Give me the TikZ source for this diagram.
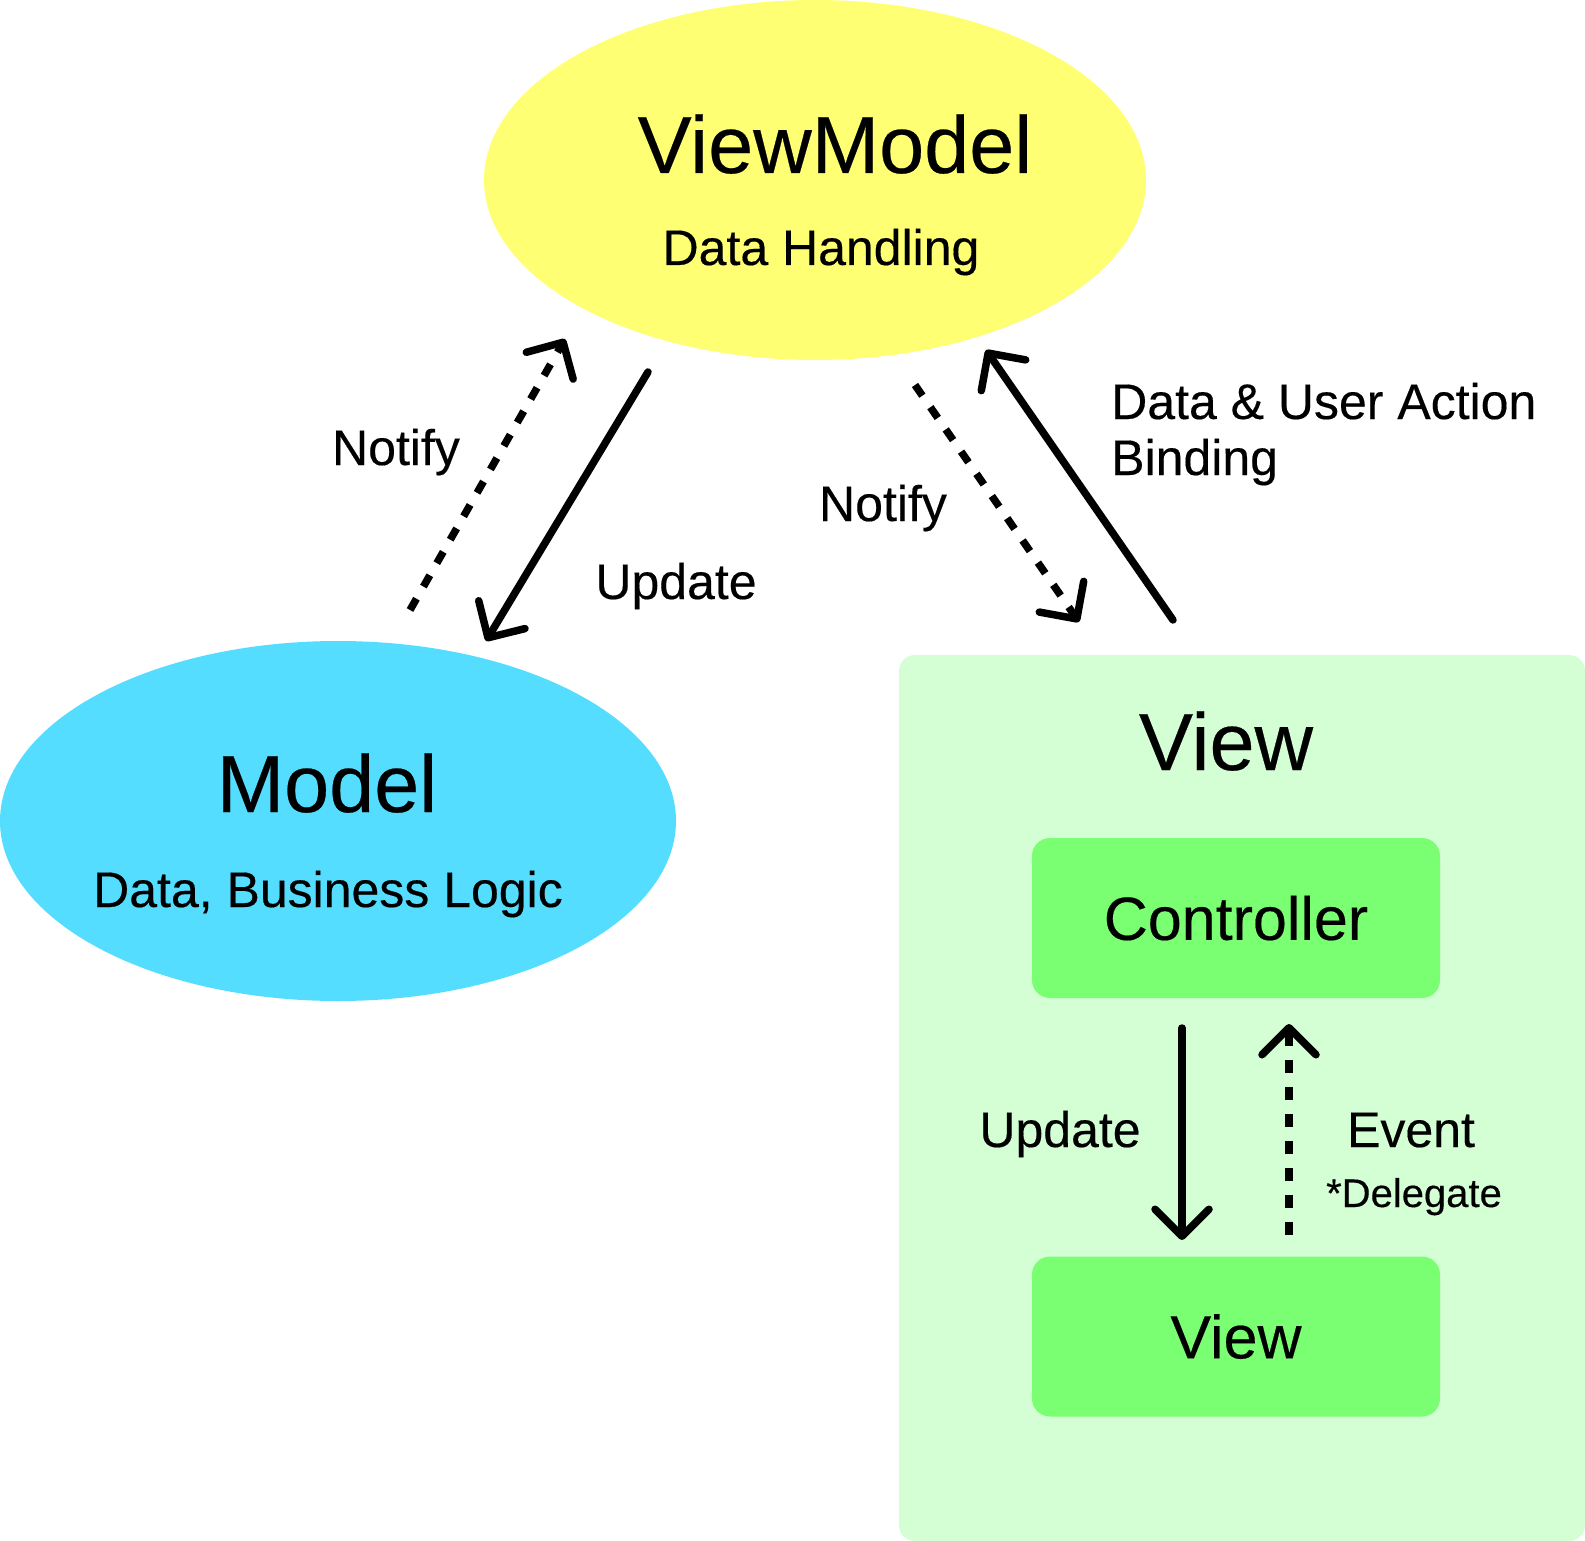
\documentclass[tikz,border=0pt]{standalone}
\usepackage{fontspec}
\setmainfont{Liberation Sans}[FakeBold=0.3]
\usetikzlibrary{arrows.meta,shapes.geometric}
\definecolor{vmyellow}{RGB}{255,255,115}
\definecolor{mcyan}{RGB}{85,221,255}
\definecolor{vpale}{RGB}{212,255,212}
\definecolor{vgreen}{RGB}{122,255,115}
\begin{document}
\begin{tikzpicture}[x=1pt,y=-1pt,
  blob/.style={ellipse,inner sep=0pt,outer sep=0pt,minimum width=662pt,minimum height=360pt},
  panel/.style={rounded corners=16pt,fill=vpale,inner sep=0pt,minimum width=686pt,minimum height=886pt},
  greenbox/.style={rounded corners=18pt,fill=vgreen,inner sep=0pt,minimum width=408pt,minimum height=160pt,
    font=\fontsize{61}{70}\selectfont,text height=43.7pt,text depth=0pt},
  bigtxt/.style={font=\fontsize{81}{90}\selectfont,inner sep=0pt,anchor=base},
  lbl/.style={font=\fontsize{50}{58}\selectfont,inner sep=0pt,anchor=base},
  smalllbl/.style={font=\fontsize{40}{48}\selectfont,inner sep=0pt,anchor=base},
  tipend/.style={-{Straight Barb[length=27pt,width=54pt,round]}},
  conn/.style={line width=7.5pt,line cap=round,tipend},
  dotconn/.style={line width=7.5pt,dash pattern=on 13pt off 14pt,tipend},
]
\useasboundingbox (0,0) rectangle (1585,1541);

% shapes
\node[blob,fill=vmyellow] (vm) at (815,180) {};
\node[blob,fill=mcyan,minimum width=676pt] (model) at (338,821) {};
\node[panel] (viewpanel) at (1242,1098) {};
\node[greenbox] (ctrl) at (1236,918) {Controller};
\node[greenbox] (view) at (1236,1336.5) {View};

% texts
\node[bigtxt] (vmtitle) at (835,173) {ViewModel};
\node[lbl] (vmsub) at (821,265) {Data Handling};
\node[bigtxt] (mtitle) at (327,812) {Model};
\node[lbl] (msub) at (328,907) {Data, Business Logic};
\node[bigtxt] (vtitle) at (1226,770) {View};

\node[lbl] (notifyl) at (396,465) {Notify};
\node[lbl] (updatel) at (676,599) {Update};
\node[lbl] (notifyr) at (883,521) {Notify};
\node[lbl,anchor=base west] (bind1) at (1111,419) {Data \& User Action};
\node[lbl,anchor=base west] (bind2) at (1111,475) {Binding};
\node[lbl] (updatei) at (1060,1147) {Update};
\node[lbl] (event) at (1411,1147) {Event};
\node[smalllbl] (deleg) at (1414,1207) {*Delegate};

% connector end points
\coordinate (n1s) at (410,610);
\coordinate (n1e) at (565,339);
\coordinate (u1s) at (648,372);
\coordinate (u1e) at (486,641);
\coordinate (n2s) at (915,385);
\coordinate (n2e) at (1079,622);
\coordinate (b1s) at (1173,620);
\coordinate (b1e) at (986,350);
\coordinate (u2s) at (1182,1028);
\coordinate (u2e) at (1182,1240);
\coordinate (e1s) at (1289,1235);
\coordinate (e1e) at (1289,1024);

% connectors
\draw[dotconn] (n1s) -- (n1e);
\draw[conn] (u1s) -- (u1e);
\draw[dotconn] (n2s) -- (n2e);
\draw[conn] (b1s) -- (b1e);
\draw[conn] (u2s) -- (u2e);
\draw[dotconn] (e1s) -- (e1e);
\end{tikzpicture}
\end{document}
